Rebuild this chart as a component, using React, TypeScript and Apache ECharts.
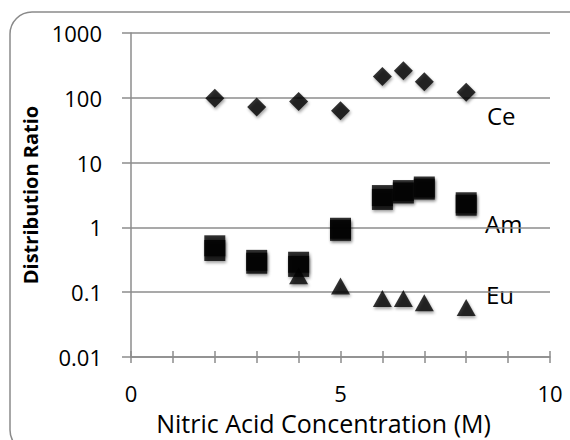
import React, { useEffect, useRef } from "react";
import * as echarts from "echarts";

const ceX = [2, 3, 4, 5, 6, 6.5, 7, 8];
const ceY = [98, 72, 88, 63, 214, 261, 177, 122];

const amX = [2, 2, 3, 3, 4, 4, 5, 5, 6, 6, 6.5, 6.5, 7, 7, 8, 8];
const amY = [0.52, 0.44, 0.31, 0.28, 0.29, 0.25, 0.97, 0.9, 3.1, 2.7, 3.7, 3.4, 4.2, 3.9, 2.4, 2.2];

const euX = [4, 5, 6, 6.5, 7, 8];
const euY = [0.18, 0.125, 0.08, 0.08, 0.069, 0.058];

const seriesLabels = ["Ce", "Am", "Eu"];
const xTitle = "Nitric Acid Concentration (M)";
const yTitle = "Distribution Ratio";

const FONT = "Open Sans";
const GRAY = "#8c8c8c";

const zip = (xs: number[], ys: number[]) => xs.map((x, i) => [x, ys[i]]);

export default function App() {
  const ref = useRef<HTMLDivElement>(null);
  useEffect(() => {
    const chart = echarts.init(ref.current!, null, { renderer: "svg" });
    const shadow = {
      shadowBlur: 3,
      shadowColor: "rgba(0,0,0,0.45)",
      shadowOffsetY: 2,
      shadowOffsetX: 1,
    };
    const lbl = (text: string, x: number, y: number) => ({
      type: "text",
      x,
      y,
      style: { text, fontFamily: FONT, fontSize: 24, fill: "#000", verticalAlign: "middle" },
    });
    chart.setOption({
      animation: false,
      backgroundColor: "#ffffff",
      grid: { left: 131, right: 20, top: 33, bottom: 79 },
      xAxis: [
        {
          type: "value",
          min: 0,
          max: 10,
          interval: 5,
          name: xTitle,
          nameLocation: "middle",
          nameGap: 53,
          nameTextStyle: { fontFamily: FONT, fontSize: 25, color: "#000", padding: [0, 34, 0, 0] },
          axisLine: { show: true, lineStyle: { color: GRAY, width: 1.5 } },
          axisTick: { show: true, length: 6, lineStyle: { color: GRAY, width: 1.5 } },
          minorTick: { show: true, splitNumber: 5, length: 6, lineStyle: { color: GRAY, width: 1.5 } },
          splitLine: { show: false },
          axisLabel: { fontFamily: FONT, fontSize: 22, color: "#000", margin: 25 },
        },
        {
          type: "value",
          min: 0,
          max: 10,
          interval: 5,
          position: "bottom",
          axisLine: { show: false },
          axisTick: { show: true, inside: true, length: 6, lineStyle: { color: GRAY, width: 1.5 } },
          minorTick: { show: true, splitNumber: 5, length: 6, lineStyle: { color: GRAY, width: 1.5 } },
          splitLine: { show: false },
          axisLabel: { show: false },
        },
      ],
      yAxis: {
        type: "log",
        logBase: 10,
        min: 0.01,
        max: 1000,
        name: yTitle,
        nameLocation: "middle",
        nameGap: 84,
        nameTextStyle: { fontFamily: FONT, fontSize: 20, fontWeight: "bold", color: "#000" },
        axisLine: { show: true, lineStyle: { color: GRAY, width: 1.5 } },
        axisTick: { show: true, length: 9, lineStyle: { color: GRAY, width: 1.5 } },
        splitLine: { show: true, lineStyle: { color: GRAY, width: 1.5 } },
        axisLabel: {
          fontFamily: FONT,
          fontSize: 22,
          color: "#000",
          margin: 29,
          formatter: (v: number) => String(parseFloat(v.toPrecision(2))),
        },
      },
      graphic: [
        {
          type: "rect",
          shape: { x: 10, y: 12, width: 580, height: 440, r: 22 },
          style: { fill: "none", stroke: "#8a8a8a", lineWidth: 1.5 },
          silent: true,
        },
        lbl(seriesLabels[0], 487, 115),
        lbl(seriesLabels[1], 485, 223),
        lbl(seriesLabels[2], 486, 294),
      ],
      series: [
        {
          name: "Eu",
          type: "scatter",
          symbol: "triangle",
          symbolSize: [19, 17],
          itemStyle: { color: "#000", ...shadow },
          data: zip(euX, euY),
        },
        {
          name: "Am",
          type: "scatter",
          symbol: "rect",
          symbolSize: 21,
          itemStyle: { color: "#000", ...shadow },
          data: zip(amX, amY),
        },
        {
          name: "Ce",
          type: "scatter",
          symbol: "diamond",
          symbolSize: 19,
          itemStyle: { color: "#000", ...shadow },
          data: zip(ceX, ceY),
        },
      ],
    });
    return () => chart.dispose();
  }, []);
  return (
    <div
      ref={ref}
      style={{ position: "fixed", left: 0, top: 0, width: 570, height: 440 }}
    />
  );
}
